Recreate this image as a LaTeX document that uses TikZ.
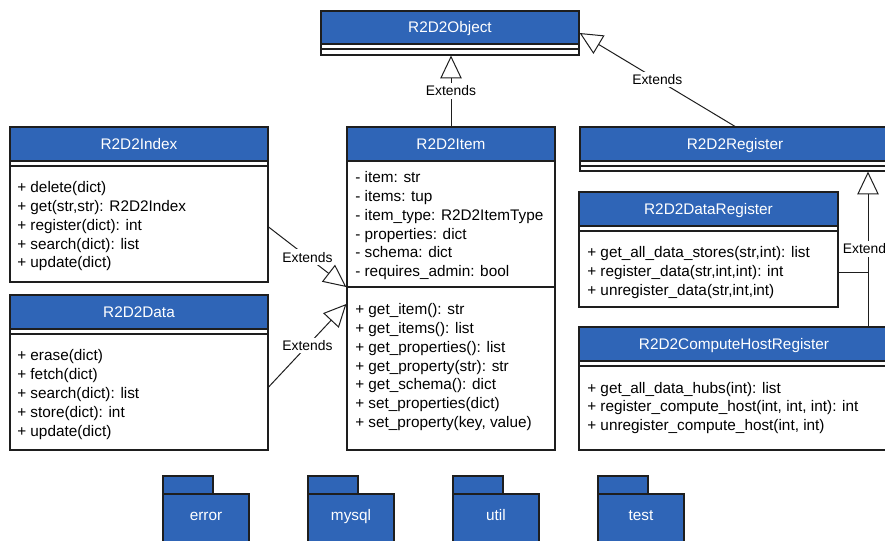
\documentclass[tikz,border=0pt]{standalone}
\usepackage{fontspec}
\setmainfont{Liberation Sans}
\usetikzlibrary{arrows.meta,fit,calc}
\definecolor{hdrblue}{RGB}{47,101,183}
\definecolor{edgec}{RGB}{30,30,30}
\begin{document}
\begin{tikzpicture}[x=0.75pt,y=-0.75pt,
  box/.style={draw=edgec, line width=0.9pt, inner sep=0pt},
  hdr/.style={box, fill=hdrblue},
  htxt/.style={inner sep=0pt, text height=8.2pt, text depth=0pt, text=white, font=\fontsize{11.5}{14}\selectfont},
  sep/.style={draw=edgec, line width=0.9pt},
  mline/.style={anchor=base west, inner sep=0pt, font=\fontsize{11.5}{14}\selectfont, text=black},
  ext/.style={draw=edgec, line width=0.75pt, -{Triangle[open, length=17pt, width=16pt]}},
  lbl/.style={fill=white, inner xsep=1pt, inner ysep=2pt, text height=7.5pt, text depth=0pt, font=\fontsize{10.4}{12}\selectfont, text=black},
  pkg/.style={box, fill=hdrblue},
  pkgtxt/.style={inner sep=0pt, text height=8.2pt, text depth=0pt, text=white, font=\fontsize{11.5}{14}\selectfont}]
\useasboundingbox (0,0) rectangle (885,541);
\clip (0,0) rectangle (885,541);

% R2D2Object
\node[box, fit={(321,11)(579,55)}] (obj) {};
\node[hdr, fit={(321,11)(579,44)}] (objh) {};
\node[htxt] (objt) at (objh.center) {R2D2Object};
\draw[sep] (321,49) -- (579,49);

% R2D2Item
\node[box, fit={(347,127)(555,450)}] (item) {};
\node[hdr, fit={(347,127)(555,161)}] (itemh) {};
\node[htxt] (itemt) at (itemh.center) {R2D2Item};
\draw[sep] (347,287) -- (555,287);
\foreach \t [count=\i] in {- item: str, - items: tup, - item\_type: R2D2ItemType, - properties: dict, - schema: dict, - requires\_admin: bool}
  \node[mline] (itema\i) at (355,{183+18.75*(\i-1)}) {\t};
\foreach \t [count=\i] in {+ get\_item(): str, + get\_items(): list, + get\_properties(): list, + get\_property(str): str, + get\_schema(): dict, + set\_properties(dict), {+ set\_property(key, value)}}
  \node[mline] (itemm\i) at (355,{315+18.75*(\i-1)}) {\t};

% R2D2Register
\node[box, fit={(580,127)(890,171)}] (reg) {};
\node[hdr, fit={(580,127)(890,161)}] (regh) {};
\node[htxt] (regt) at (regh.center) {R2D2Register};
\draw[sep] (580,166) -- (890,166);

% R2D2Index
\node[box, fit={(10,127)(268,282)}] (idx) {};
\node[hdr, fit={(10,127)(268,161)}] (idxh) {};
\node[htxt] (idxt) at (idxh.center) {R2D2Index};
\draw[sep] (10,166) -- (268,166);
\foreach \t [count=\i] in {+ delete(dict), {+ get(str,str): R2D2Index}, + register(dict): int, + search(dict): list, + update(dict)}
  \node[mline] (idxm\i) at (17,{193+18.75*(\i-1)}) {\t};

% R2D2Data
\node[box, fit={(10,295)(268,450)}] (dat) {};
\node[hdr, fit={(10,295)(268,329)}] (dath) {};
\node[htxt] (datt) at (dath.center) {R2D2Data};
\draw[sep] (10,334) -- (268,334);
\foreach \t [count=\i] in {+ erase(dict), + fetch(dict), + search(dict): list, + store(dict): int, + update(dict)}
  \node[mline] (datm\i) at (17,{361+18.75*(\i-1)}) {\t};

% R2D2DataRegister
\node[box, fit={(579,192)(838,307)}] (dreg) {};
\node[hdr, fit={(579,192)(838,226)}] (dregh) {};
\node[htxt] (dregt) at (dregh.center) {R2D2DataRegister};
\draw[sep] (579,231) -- (838,231);
\foreach \t [count=\i] in {{+ get\_all\_data\_stores(str,int): list}, {+ register\_data(str,int,int): int}, {+ unregister\_data(str,int,int)}}
  \node[mline] (dregm\i) at (587,{258+18.75*(\i-1)}) {\t};

% R2D2ComputeHostRegister
\node[box, fit={(579,327)(890,450)}] (chr) {};
\node[hdr, fit={(579,327)(890,361)}] (chrh) {};
\node[htxt] (chrt) at (734,344) {R2D2ComputeHostRegister};
\draw[sep] (579,366) -- (890,366);
\foreach \t [count=\i] in {+ get\_all\_data\_hubs(int): list, {+ register\_compute\_host(int, int, int): int}, {+ unregister\_compute\_host(int, int)}}
  \node[mline] (chrm\i) at (587,{393+18.75*(\i-1)}) {\t};

% packages
\foreach \nm/\x/\lab in {err/163/error, mys/308/mysql, utl/453/util, tst/598/test} {
  \node[pkg, fit={(\x,476)(\x+50,494)}] (\nm tab) {};
  \node[pkg, fit={(\x,494)(\x+86,570)}] (\nm) {};
  \node[pkgtxt] (\nm lab) at (\x+43,515) {\lab};
}

% connectors
\coordinate (bend) at (868,273);
\draw[ext] (item.north |- itemh.north) -- (item.north |- obj.south) node[lbl, pos=0.5] (l1) {Extends};
\draw[ext] (reg.north) -- (obj.east) node[lbl, pos=0.5] (l2) {Extends};
\draw[ext] ([yshift=-16.9pt]idx.east) -- ([yshift=1.1pt]item.west) node[lbl, pos=0.5] (l3) {Extends};
\draw[ext] ([yshift=-10.9pt]dat.east) -- ([yshift=-11.6pt]item.west) node[lbl, pos=0.5] (l4) {Extends};
\draw[draw=edgec, line width=0.75pt] (dreg.east |- bend) -- (bend);
\draw[ext] (chr.north -| bend) -- (reg.south -| bend) node[lbl, pos=0.5] (l5) {Extends};
\end{tikzpicture}
\end{document}
